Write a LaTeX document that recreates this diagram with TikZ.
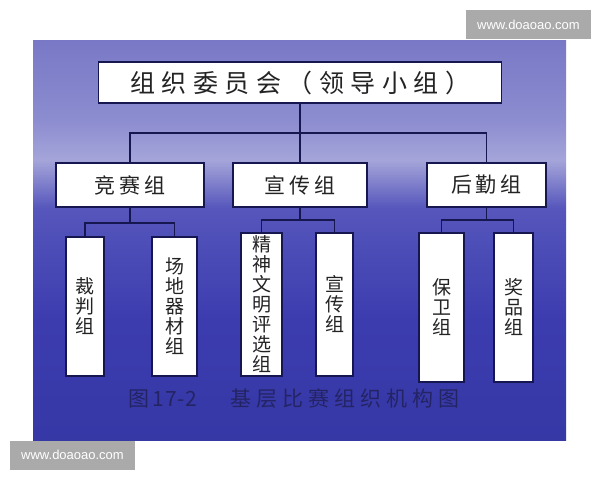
\documentclass[tikz,border=0pt]{standalone}
\usepackage{fontspec}
\usepackage{tikz}
\newfontfamily\cjk{Noto Sans CJK SC}
\newfontfamily\wmfont{Liberation Sans}

\definecolor{navy}{RGB}{22,22,80}
\definecolor{ink}{RGB}{35,35,35}
\definecolor{capink}{RGB}{36,36,100}
\definecolor{stampgray}{RGB}{170,170,170}
\definecolor{skytop}{RGB}{120,120,198}
\definecolor{skymid}{RGB}{140,140,208}
\definecolor{horizon}{RGB}{165,165,218}
\definecolor{seatop}{RGB}{86,86,188}
\definecolor{seamid}{RGB}{60,60,175}
\definecolor{seadeep}{RGB}{54,56,166}

\pgfdeclareverticalshading{skysea}{100bp}{color(0bp)=(seadeep); color(25bp)=(seadeep);
  color(40bp)=(seamid); color(54bp)=(seatop); color(60bp)=(horizon);
  color(65bp)=(skymid); color(75bp)=(skytop); color(100bp)=(skytop)}

\begin{document}
\begin{tikzpicture}[x=1pt,y=-1pt,
    box/.style={draw=navy,line width=1.6pt,fill=white,inner sep=0pt,text=ink},
    head/.style={box,minimum width=403pt,minimum height=41pt,
      font=\cjk\fontsize{25}{30}\selectfont\addfontfeature{LetterSpace=26}},
    group/.style={box,minimum height=44pt,
      font=\cjk\fontsize{21}{26}\selectfont\addfontfeature{LetterSpace=19}},
    leaf/.style={box,align=center,font=\cjk\fontsize{19}{20}\selectfont},
    link/.style={draw=navy,line width=1.5pt},
    caption/.style={text=capink,inner sep=0pt,
      font=\cjk\fontsize{21}{26}\selectfont\addfontfeature{LetterSpace=24}},
    stamp/.style={fill=stampgray,text=white,minimum width=125pt,minimum height=29pt,
      inner sep=0pt,font=\wmfont\fontsize{13}{15}\selectfont}]

    \useasboundingbox (0,0) rectangle (600,480);

    % Background
    \fill[white] (0,0) rectangle (600,480);
    \fill[shading=skysea] (33,40) rectangle (566,440);

    % Top box
    \node[head] (head) at (300,82.5) {组织委员会（领导小组）};

    % Groups
    \node[group,minimum width=148pt] (jingsai) at (130,185) {竞赛组};
    \node[group,minimum width=134pt] (xuanchuan) at (300,185) {宣传组};
    \node[group,minimum width=119pt] (houqin) at (486.5,185) {后勤组};

    % Leaves
    \foreach \name/\px/\py/\w/\h/\txt in {
        caipan/85/306.5/38/139/{裁\\判\\组},
        changdi/174.5/306.5/45/139/{场\\地\\器\\材\\组},
        jingshen/261.5/304.5/41/143/{精\\神\\文\\明\\评\\选\\组},
        xcleaf/334.5/304.5/37/143/{宣\\传\\组},
        baowei/441.5/307.5/45/149/{保\\卫\\组},
        jiangpin/513.5/307.5/39/149/{奖\\品\\组}} {
        \node[leaf,minimum width=\w pt,minimum height=\h pt] (\name) at (\px,\py) {\txt};
    }

    % Connectors, top level
    \coordinate (bus) at (300,133);
    \draw[link] (head.south) -- (bus);
    \draw[link] (jingsai.north) |- (bus) -| (houqin.north);
    \draw[link] (bus) -- (xuanchuan.north);

    % Connectors, group level
    \draw[link] (jingsai.south) -- ++(0,15) coordinate (jbus);
    \draw[link] (caipan.north) |- (jbus) -| (changdi.north);
    \draw[link] (xuanchuan.south) -- ++(0,12) coordinate (xbus);
    \draw[link] (jingshen.north) |- (xbus) -| (xcleaf.north);
    \draw[link] (houqin.south) -- ++(0,12) coordinate (hbus);
    \draw[link] (baowei.north) |- (hbus) -| (jiangpin.north);

    % Caption
    \node[caption,anchor=west] (cap) at (128,399)
      {图\,{\addfontfeature{LetterSpace=4}17-2}\hspace{33pt}基层比赛组织机构图};

    % Watermarks
    \node[stamp] (wmtop) at (528.5,24.5) {www.doaoao.com};
    \node[stamp] (wmbot) at (72.5,455) {www.doaoao.com};
\end{tikzpicture}
\end{document}
